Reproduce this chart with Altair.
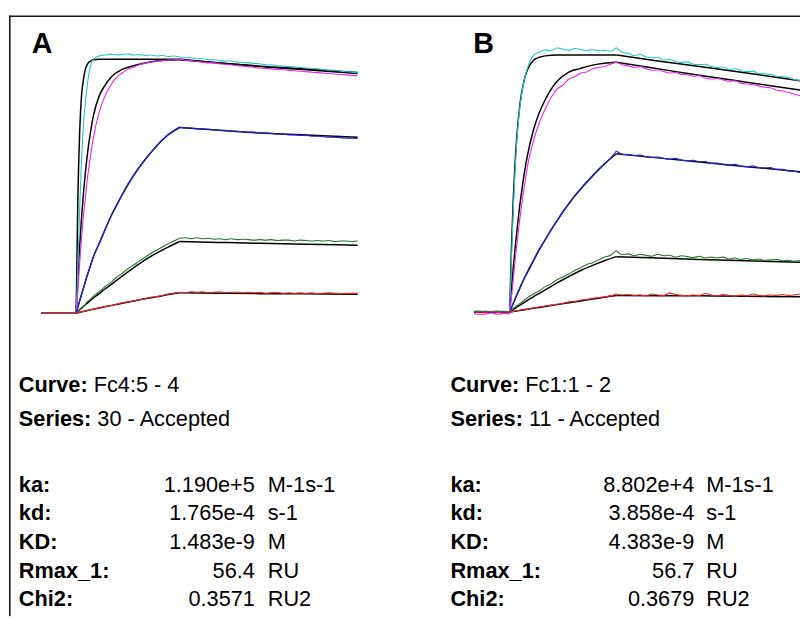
import altair as alt
import pandas as pd

# ---------------- data ----------------
T_DATA = [-60, -50, -40, -30, -20, -10, 0,
          3, 6, 9, 12, 16, 20, 25, 30,
          40, 50, 60, 70, 80, 90, 100, 110, 120, 130, 140, 150, 160, 170, 180,
          190, 200, 210, 220, 230, 240, 250, 260, 270, 280, 290, 300, 310, 320, 330,
          340, 350, 360, 370, 380, 390, 400, 410, 420, 430, 440, 450, 460, 470, 480, 490]
T_FIT = [-60, 0, 3, 6, 9, 12, 16, 20, 25, 30, 40, 50, 60, 80, 100, 120, 140, 160, 180,
         250, 320, 400, 490]

SERIES = ["cyan", "magenta", "blue", "green", "red"]
COLORS = ["#22c8c8", "#ee22ee", "#2424e8", "#217a21", "#f22222"]

A_cyan = ([0.0, 0.05, -0.05, 0.0, 0.05, -0.05, 0.0]
          + [10.0, 22.0, 32.0, 39.5, 45.5, 50.0, 53.5, 55.0]
          + [55.7, 55.9, 56.1, 55.9, 56.0, 56.2, 55.9, 56.0, 55.8, 55.9, 55.7, 55.8, 55.6, 55.7, 55.5]
          + [55.3, 55.3, 55.1, 55.1, 54.9, 54.9, 54.7, 54.6, 54.6, 54.4, 54.3, 54.2, 54.1, 54.0, 53.8,
             53.8, 53.6, 53.5, 53.4, 53.3, 53.2, 53.1, 53.0, 52.9, 52.8, 52.6, 52.6, 52.4, 52.3, 52.2, 52.0])
A_magenta = ([0.0, -0.05, 0.05, 0.0, -0.1, 0.0, -0.2]
             + [4.5, 10.5, 15.5, 20.0, 25.0, 29.5, 34.0, 38.0]
             + [43.5, 47.0, 49.3, 51.0, 52.0, 52.8, 53.3, 53.8, 54.1, 54.4, 54.5, 54.7, 54.8, 54.9, 55.0]
             + [54.8, 54.7, 54.5, 54.4, 54.2, 54.2, 54.0, 53.9, 53.8, 53.6, 53.5, 53.4, 53.2, 53.1, 53.0,
                52.9, 52.8, 52.7, 52.6, 52.5, 52.4, 52.3, 52.2, 52.1, 52.0, 51.9, 51.8, 51.7, 51.6, 51.5, 51.4])
A_blue = ([0.0, 0.05, 0.0, -0.05, 0.0, 0.05, 0.0]
          + [1.2, 2.6, 3.8, 5.1, 6.7, 8.4, 10.2, 12.1]
          + [15.1, 17.9, 20.8, 23.2, 25.6, 27.9, 29.7, 31.6, 33.3, 34.8, 36.1, 37.5, 38.6, 39.5, 40.3]
          + [40.1, 40.1, 39.9, 39.9, 39.8, 39.7, 39.6, 39.6, 39.4, 39.4, 39.3, 39.2, 39.2, 39.0, 39.0,
             38.9, 38.8, 38.8, 38.6, 38.6, 38.5, 38.5, 38.3, 38.3, 38.2, 38.1, 38.1, 38.0, 37.9, 37.9, 37.8])
A_green = ([0.0, -0.05, 0.05, 0.0, 0.05, 0.0, 0.0]
           + [0.3, 0.7, 1.1, 1.4, 1.9, 2.5, 3.0, 3.6]
           + [4.6, 5.7, 6.6, 7.7, 8.6, 9.6, 10.4, 11.3, 12.1, 12.9, 13.6, 14.3, 15.0, 15.6, 16.2]
           + [16.3, 16.1, 16.3, 16.1, 16.2, 16.0, 16.1, 15.9, 16.1, 15.9, 16.0, 15.9, 15.8, 15.9, 15.8,
              15.9, 15.7, 15.8, 15.8, 15.6, 15.8, 15.7, 15.6, 15.7, 15.6, 15.7, 15.5, 15.6, 15.6, 15.5, 15.6])
A_red = ([0.0, 0.05, -0.05, 0.0, -0.05, 0.05, 0.0]
         + [0.05, 0.15, 0.2, 0.3, 0.4, 0.55, 0.7, 0.85]
         + [1.1, 1.4, 1.6, 1.9, 2.2, 2.4, 2.6, 2.9, 3.1, 3.4, 3.6, 3.8, 4.1, 4.3, 4.5]
         + [4.4, 4.6, 4.5, 4.6, 4.4, 4.5, 4.6, 4.4, 4.5, 4.5, 4.4, 4.5, 4.4, 4.5, 4.3,
            4.4, 4.5, 4.3, 4.4, 4.3, 4.4, 4.3, 4.4, 4.2, 4.3, 4.4, 4.3, 4.2, 4.3, 4.3, 4.35])

A_fit_cyan = [0, 0, 24.8, 38.6, 46.5, 50.0, 52.8, 54.0, 54.6, 54.9, 55.0, 55.0, 55.0, 55.0, 55.0, 55.0,
              55.0, 55.0, 55.0, 54.2, 53.5, 52.9, 52.1]
A_fit_magenta = [0, 0, 7.6, 14.3, 19.9, 24.8, 30.3, 34.8, 39.2, 42.7, 47.0, 49.3, 51.0, 52.8, 53.6, 54.2,
                 54.6, 54.8, 54.9, 54.2, 53.4, 52.7, 51.9]
A_fit_blue = [0, 0, 1.3, 2.6, 3.9, 5.1, 6.8, 8.4, 10.3, 12.2, 15.0, 18.0, 20.8, 25.6, 29.8, 33.2,
              36.2, 38.6, 40.2, 39.6, 39.0, 38.6, 38.1]
A_fit_green = [0, 0, 0.35, 0.7, 1.0, 1.35, 1.8, 2.2, 2.75, 3.25, 4.2, 5.2, 6.1, 8.0, 9.8, 11.5,
               13.0, 14.3, 15.5, 15.3, 15.1, 14.9, 14.7]
A_fit_red = [0, 0, 0.08, 0.17, 0.25, 0.33, 0.44, 0.55, 0.69, 0.83, 1.1, 1.35, 1.6, 2.1, 2.6, 3.1,
             3.5, 4.0, 4.4, 4.3, 4.2, 4.15, 4.05]

B_cyan = ([0.2, 0.1, 0.2, 0.0, 0.1, 0.2, 0.0]
          + [11.5, 22.0, 30.5, 37.0, 43.0, 47.0, 50.5, 52.8]
          + [55.6, 56.3, 56.8, 56.6, 57.2, 57.0, 56.7, 57.1, 56.9, 56.6, 56.9, 56.6, 56.7, 56.5, 57.3]
          + [56.3, 56.0, 55.6, 55.8, 55.3, 55.1, 55.2, 54.6, 54.7, 54.3, 54.1, 54.2, 53.7, 53.6, 53.7,
             53.2, 53.0, 53.1, 52.6, 52.7, 52.3, 52.1, 52.2, 51.7, 51.6, 51.5, 51.1, 51.0, 50.8, 50.4, 50.2])
B_magenta = ([-0.3, -0.5, -0.4, -0.2, -0.5, -0.3, -0.4]
             + [3.0, 7.0, 11.0, 14.5, 19.0, 23.0, 27.5, 31.5]
             + [37.0, 41.0, 44.0, 46.5, 48.3, 49.2, 50.5, 51.0, 51.8, 52.0, 52.7, 53.0, 53.2, 53.7, 54.2]
             + [53.6, 53.3, 53.0, 53.2, 52.7, 52.4, 52.5, 52.1, 51.8, 51.9, 51.5, 51.4, 51.1, 51.2, 50.7,
                50.5, 50.6, 50.3, 50.0, 50.1, 49.6, 49.4, 49.3, 49.0, 48.7, 48.6, 48.1, 47.9, 47.6, 47.2, 46.9])
B_blue = ([0.1, 0.0, 0.1, -0.1, 0.0, 0.1, 0.0]
          + [0.9, 1.9, 2.6, 3.8, 4.7, 6.1, 7.3, 8.8]
          + [11.2, 13.7, 15.6, 17.9, 19.7, 21.8, 23.4, 25.2, 26.6, 28.2, 29.4, 30.9, 32.0, 33.3, 34.9]
          + [34.2, 34.1, 33.9, 34.0, 33.6, 33.5, 33.6, 33.3, 33.1, 33.3, 32.9, 32.8, 32.9, 32.5, 32.6,
             32.2, 32.3, 32.0, 31.8, 32.0, 31.6, 31.5, 31.7, 31.3, 31.2, 31.3, 30.9, 30.9, 30.6, 30.5, 30.2])
B_green = ([0.1, 0.2, 0.0, 0.1, 0.2, 0.0, 0.1]
           + [0.4, 0.8, 1.0, 1.4, 1.7, 2.1, 2.6, 3.1]
           + [3.9, 4.6, 5.5, 6.1, 7.0, 7.6, 8.3, 9.0, 9.6, 10.3, 10.7, 11.3, 11.9, 12.3, 13.3]
           + [12.4, 12.6, 12.2, 12.5, 12.3, 12.1, 12.5, 12.2, 12.3, 11.9, 12.2, 12.0, 11.8, 12.1, 11.7,
              11.9, 11.7, 11.9, 11.5, 11.7, 11.4, 11.6, 11.3, 11.5, 11.2, 11.3, 11.4, 11.1, 11.2, 11.0, 11.1])
B_red = ([-0.2, 0.0, -0.1, 0.1, -0.1, 0.0, 0.0]
         + [0.1, 0.1, 0.2, 0.3, 0.3, 0.5, 0.6, 0.6]
         + [0.9, 1.1, 1.3, 1.5, 1.7, 1.9, 2.2, 2.3, 2.6, 2.7, 3.0, 3.1, 3.3, 3.5, 3.9]
         + [3.7, 3.8, 3.6, 3.7, 3.5, 3.9, 3.7, 3.6, 4.1, 3.8, 3.6, 3.5, 3.7, 3.6, 4.0,
            3.7, 3.5, 3.8, 3.6, 3.4, 3.7, 3.5, 3.9, 3.6, 3.5, 3.7, 3.6, 3.8, 3.6, 3.7, 3.9])

B_fit_cyan = [0, 0, 13.8, 24.2, 32.0, 37.9, 43.5, 47.4, 50.5, 52.5, 54.5, 55.2, 55.5, 55.7, 55.7, 55.7,
              55.7, 55.7, 55.7, 54.4, 53.2, 51.8, 50.1]
B_fit_magenta = [0, 0, 5.0, 9.5, 13.6, 17.3, 22.0, 25.9, 30.3, 33.9, 39.4, 43.2, 46.0, 50.0, 52.0, 52.8,
                 53.5, 53.9, 54.1, 52.7, 51.3, 49.8, 48.1]
B_fit_blue = [0, 0, 0.93, 1.86, 2.77, 3.67, 4.86, 6.0, 7.4, 8.6, 11.1, 13.5, 15.7, 19.8, 23.5, 26.7,
              29.5, 32.1, 34.3, 33.4, 32.5, 31.5, 30.4]
B_fit_green = [0, 0, 0.27, 0.53, 0.8, 1.05, 1.38, 1.7, 2.1, 2.5, 3.3, 4.05, 4.8, 6.3, 7.7, 9.0,
               10.1, 11.1, 12.0, 11.7, 11.4, 11.1, 10.8]
B_fit_red = [0, 0, 0.06, 0.12, 0.18, 0.24, 0.32, 0.4, 0.5, 0.6, 0.8, 1.0, 1.2, 1.6, 2.0, 2.4,
             2.8, 3.2, 3.6, 3.55, 3.5, 3.4, 3.3]

PANEL_LETTERS = ["A", "B"]
HEAD_LABELS = ["Curve:", "Series:"]
A_HEAD = ["Fc4:5 - 4", "30 - Accepted"]
B_HEAD = ["Fc1:1 - 2", "11 - Accepted"]
INFO_LABELS = ["ka:", "kd:", "KD:", "Rmax_1:", "Chi2:"]
A_VALUES = ["1.190e+5", "1.765e-4", "1.483e-9", "56.4", "0.3571"]
B_VALUES = ["8.802e+4", "3.858e-4", "4.383e-9", "56.7", "0.3679"]
UNITS = ["M-1s-1", "s-1", "M", "RU", "RU2"]

# ---------------- layout ----------------
FONT = "Liberation Sans, Arial, Helvetica, sans-serif"
FS = 22
H = 604
HEAD_Y = [385, 419]
INFO_Y = [486, 515, 544, 573, 602]
HEAD_DX = [75.8, 79.5]


def long_df(times, series_lists):
    rows = []
    for name, vals in zip(SERIES, series_lists):
        assert len(vals) == len(times), (name, len(vals))
        for t, v in zip(times, vals):
            segs = []
            if t <= 0:
                segs.append("base")
            if 0 <= t <= 180:
                segs.append("assoc")
            if t >= 180:
                segs.append("dissoc")
            for s in segs:
                rows.append({"series": name, "key": name + "_" + s, "t": t, "v": v})
    return pd.DataFrame(rows)


def txt_layer(texts, xs_, ys_, align, bold=False, size=FS):
    df = pd.DataFrame({"txt": texts, "x": xs_, "y": ys_})
    kw = dict(font=FONT, fontSize=size, align=align, baseline="alphabetic", color="#000000")
    if bold:
        kw["fontWeight"] = "bold"
    return alt.Chart(df).mark_text(**kw).encode(
        x=alt.X("x:Q", scale=None), y=alt.Y("y:Q", scale=None), text="txt:N")


def panel(data_lists, fit_lists, xdom, ydom, width, letter, letter_xy,
          label_x, value_right, unit_x, head_vals, info_vals):
    xs = alt.Scale(domain=xdom, nice=False, zero=False)
    ys = alt.Scale(domain=ydom, nice=False, zero=False)
    ddf = long_df(T_DATA, data_lists)
    fdf = long_df(T_FIT, fit_lists)

    fit_lines = alt.Chart(fdf).mark_line(interpolate="monotone", clip=True, strokeWidth=1.5,
                                          color="#000000").encode(
        x=alt.X("t:Q", scale=xs, axis=None),
        y=alt.Y("v:Q", scale=ys, axis=None),
        detail="key:N",
        order="t:Q",
    )
    data_lines = alt.Chart(ddf).mark_line(interpolate="monotone", clip=True, strokeWidth=1.1).encode(
        x=alt.X("t:Q", scale=xs, axis=None),
        y=alt.Y("v:Q", scale=ys, axis=None),
        color=alt.Color("series:N", scale=alt.Scale(domain=SERIES, range=COLORS), legend=None),
        detail="key:N",
        order="t:Q",
    )

    letter_t = txt_layer([letter], [letter_xy[0]], [letter_xy[1]], "left", bold=True, size=29)
    head_lab = txt_layer(HEAD_LABELS, [label_x] * 2, HEAD_Y, "left", bold=True)
    head_val = txt_layer(head_vals, [label_x + d for d in HEAD_DX], HEAD_Y, "left")
    info_lab = txt_layer(INFO_LABELS, [label_x] * 5, INFO_Y, "left", bold=True)
    info_val = txt_layer(info_vals, [value_right] * 5, INFO_Y, "right")
    info_unit = txt_layer(UNITS, [unit_x] * 5, INFO_Y, "left")

    one = pd.DataFrame({"k": [0]})
    top_rule = alt.Chart(one).mark_rule(color="#1a1a1a", strokeWidth=1.6).encode(
        x=alt.value(0), x2=alt.value(width), y=alt.value(4.5))
    layers = [fit_lines, data_lines, letter_t, head_lab, head_val, info_lab, info_val, info_unit, top_rule]
    if letter == "A":
        left_rule = alt.Chart(one).mark_rule(color="#1a1a1a", strokeWidth=1.6).encode(
            x=alt.value(0.8), y=alt.value(3.7), y2=alt.value(612))
        layers.append(left_rule)
    return alt.layer(*layers).properties(width=width, height=H)


pa = panel([A_cyan, A_magenta, A_blue, A_green, A_red],
           [A_fit_cyan, A_fit_magenta, A_fit_blue, A_fit_green, A_fit_red],
           [-116.9, 570.8], [-63.98, 65.27], 400, "A", (23, 42),
           10, 249, 262, A_HEAD, A_VALUES)
pb = panel([B_cyan, B_magenta, B_blue, B_green, B_red],
           [B_fit_cyan, B_fit_magenta, B_fit_blue, B_fit_green, B_fit_red],
           [-178.3, 490.0], [-64.2, 65.05], 401, "B", (70, 42),
           47, 294, 306, B_HEAD, B_VALUES)

chart = alt.hconcat(pa, pb, spacing=0, bounds="flush").properties(
    padding=0, background="white"
).configure_view(strokeWidth=0)

chart.save("out.html", embed_options={"renderer": "svg", "actions": False})
